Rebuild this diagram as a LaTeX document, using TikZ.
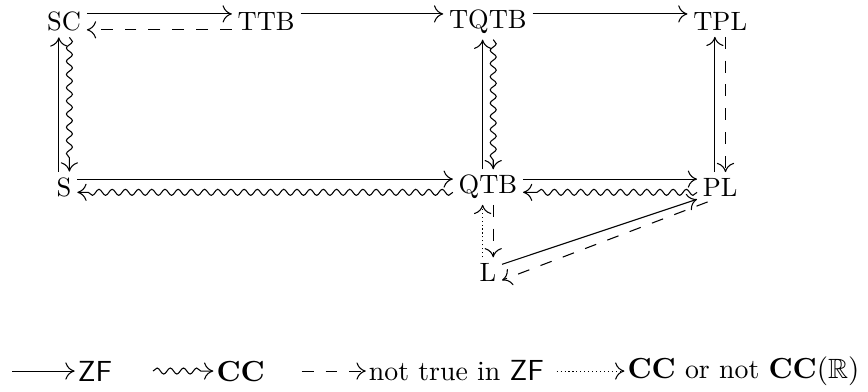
\documentclass[tikz,border=0pt]{standalone}
\usepackage{amsmath,amssymb}
\usepackage{tikz}
\usetikzlibrary{arrows.meta,decorations.pathmorphing,positioning}

\begin{document}
\begin{tikzpicture}[
  zf/.style={-{To[length=3.5pt,width=6.5pt]}},
  cc/.style={-{To[length=3.5pt,width=6.5pt]},decorate,decoration={snake,amplitude=0.4mm,segment length=1.75mm,post length=1mm}},
  nzf/.style={-{To[length=3.5pt,width=6.5pt]},dash pattern=on 4.5pt off 4.5pt},
  ccr/.style={-{To[length=3.5pt,width=6.5pt]},dash pattern=on 0.4pt off 1.1pt},
  key/.style={inner sep=1pt,font=\fontsize{10.5}{12.5}\selectfont},
  every node/.style={inner sep=2pt}]
  \useasboundingbox (0,0) rectangle (11.51,-5.185);
  % top row
  \node (SC) at (0.85,-0.29) {SC};
  \node (TTB) at (3.53,-0.29) {TTB};
  \node (TQTB) at (6.47,-0.29) {TQTB};
  \node (TPL) at (9.55,-0.29) {TPL};
  % middle row
  \node (S) at (0.85,-2.48) {S};
  \node (QTB) at (6.47,-2.48) {QTB};
  \node (PL) at (9.55,-2.48) {PL};
  \node (L) at (6.47,-3.61) {L};
  % horizontal arrows
  \draw[zf] ([yshift=3pt]SC.east) -- ([yshift=3pt]TTB.west);
  \draw[nzf] ([yshift=-3pt]TTB.west) -- ([yshift=-3pt]SC.east);
  \draw[zf] ([yshift=3pt]TTB.east) -- ([yshift=3pt]TQTB.west);
  \draw[zf] ([yshift=3pt]TQTB.east) -- ([yshift=3pt]TPL.west);
  \draw[zf] ([yshift=3pt]S.east) -- ([yshift=3pt]QTB.west);
  \draw[cc] ([yshift=-2pt]QTB.west) -- ([yshift=-2pt]S.east);
  \draw[zf] ([yshift=3pt]QTB.east) -- ([yshift=3pt]PL.west);
  \draw[cc] ([yshift=-2pt]PL.west) -- ([yshift=-2pt]QTB.east);
  % vertical arrows
  \draw[zf] ([xshift=-2pt]S.north) -- ([xshift=-2pt]SC.south);
  \draw[cc] ([xshift=2pt]SC.south) -- ([xshift=2pt]S.north);
  \draw[zf] ([xshift=-2pt]QTB.north) -- ([xshift=-2pt]TQTB.south);
  \draw[cc] ([xshift=2pt]TQTB.south) -- ([xshift=2pt]QTB.north);
  \draw[zf] ([xshift=-2pt]PL.north) -- ([xshift=-2pt]TPL.south);
  \draw[nzf] ([xshift=2pt]TPL.south) -- ([xshift=2pt]PL.north);
  \draw[ccr] ([xshift=-2pt]L.north) -- ([xshift=-2pt]QTB.south);
  \draw[nzf] ([xshift=2pt]QTB.south) -- ([xshift=2pt]L.north);
  % diagonal
  \draw[zf] ([yshift=3pt]L.east) -- ([yshift=1pt]PL.south west);
  \draw[nzf] ([xshift=4pt]PL.south west) -- ([yshift=-3pt]L.east);
  % legend
  \coordinate (k1) at (0.16,-4.92);
  \node[key,right=0.83cm of k1] (t1) {$\mathsf{ZF}$};
  \draw[zf] (k1) -- (t1);
  \coordinate[right=0.5cm of t1] (k2);
  \node[key,right=0.8cm of k2] (t2) {$\mathbf{CC}$};
  \draw[cc] (k2) -- (t2);
  \coordinate (k3) at (4.0,-4.92);
  \node[key,right=0.85cm of k3] (t3) {not true in $\mathsf{ZF}$};
  \draw[nzf] (k3) -- (t3);
  \coordinate (k4) at (7.38,-4.92);
  \node[key,right=0.9cm of k4] (t4) {$\mathbf{CC}$ or not $\mathbf{CC}(\mathbb{R})$};
  \draw[ccr] (k4) -- (t4);
\end{tikzpicture}
\end{document}
